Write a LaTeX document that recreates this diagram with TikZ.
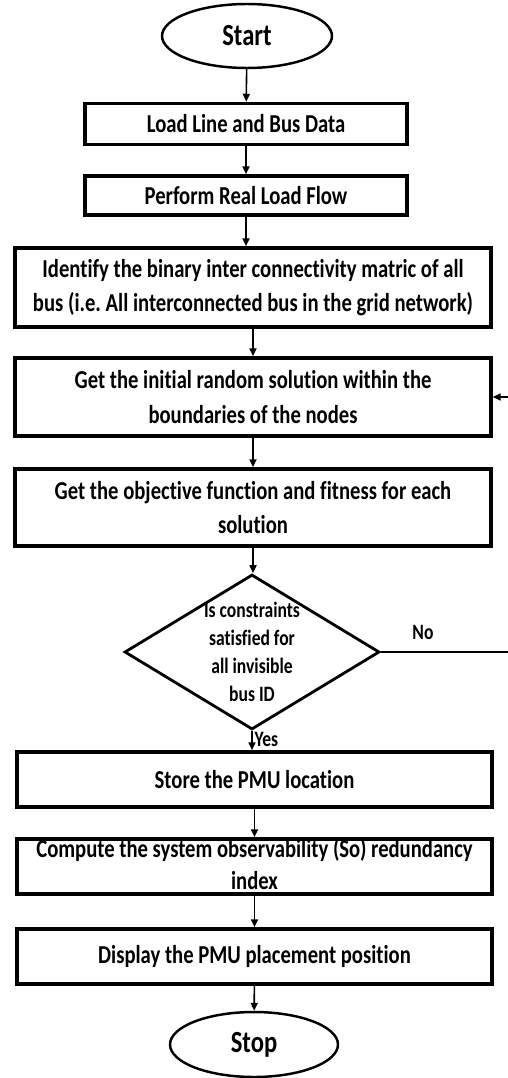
\documentclass[tikz,border=0pt]{standalone}
\usepackage{fontspec}
\setmainfont[FakeStretch=0.8, Ligatures=NoCommon]{Carlito}
\usepackage{tikz}
\usetikzlibrary{shapes.geometric, arrows.meta, positioning, calc}
\definecolor{flowblack}{RGB}{0,0,0}
\definecolor{flowwhite}{RGB}{255,255,255}
\tikzset{
  terminal/.style={
    ellipse, minimum width=3.4cm, minimum height=1.28cm, inner sep=0pt,
    draw=flowblack, line width=1.4pt, fill=flowwhite,
    font=\fontsize{17.5pt}{20pt}\selectfont\bfseries
  },
  stepbox/.style={
    rectangle, minimum width=9.52cm, minimum height=1.1cm, inner sep=0pt,
    draw=flowblack, line width=2.1pt, fill=flowwhite, align=center,
    font=\fontsize{14.7pt}{19.4pt}\selectfont\bfseries
  },
  decision/.style={
    diamond, minimum width=5.1cm, minimum height=3.1cm, inner sep=0pt,
    draw=flowblack, line width=1.6pt, fill=flowwhite
  },
  boxtext/.style={align=center, inner sep=0pt,
    font=\fontsize{14.7pt}{18.4pt}\selectfont\bfseries},
  dectext/.style={align=center, inner sep=0pt,
    font=\fontsize{12.5pt}{15.9pt}\selectfont\bfseries},
  arrow/.style={-{Triangle[length=4.5pt, width=4pt]}, line width=0.9pt, color=flowblack},
  flowlabel/.style={inner sep=1pt, font=\fontsize{12.5pt}{14pt}\selectfont\bfseries}
}

\begin{document}
\begin{tikzpicture}[x=0.02cm, y=-0.02cm]
  \useasboundingbox (0,0) rectangle (507,1078);

  % Terminals
  \node[terminal] (start) at (247, 36) {Start};
  \node[terminal, minimum width=3.36cm, minimum height=1.3cm] (stop) at (254, 1044.5) {Stop};

  % Preparation steps
  \node[stepbox, minimum width=6.44cm, minimum height=0.82cm] (loaddata) at (246, 124)
    {Load Line and Bus Data};
  \node[stepbox, minimum width=6.44cm, minimum height=0.78cm] (loadflow) at (246, 195.5)
    {Perform Real Load Flow};
  \node[stepbox, minimum height=1.58cm] (connmat) at (253, 287.5)
    {Identify the binary inter connectivity matric of all\\
     bus (i.e.\ All interconnected bus in the grid network)};

  % Search loop
  \node[stepbox, minimum height=1.56cm] (initsol) at (253, 397)
    {Get the initial random solution within the\\ boundaries of the nodes};
  \node[stepbox, minimum height=1.54cm] (fitness) at (253, 507.5)
    {Get the objective function and fitness for each\\ solution};
  \node[decision, path picture={
      \node[dectext] at (path picture bounding box.center)
        {Is constraints\\ satisfied for\\ all invisible\\ bus ID};
    }] (check) at (252, 652) {};

  % Results
  \node[stepbox, minimum width=9.5cm] (store) at (254.5, 779.5) {Store the PMU location};
  \node[stepbox, minimum width=9.5cm, path picture={
      \node[boxtext, yshift=1.5pt] at (path picture bounding box.center)
        {Compute the system observability (So) redundancy\\ index};
    }] (observ) at (254.5, 866.5) {};
  \node[stepbox, minimum width=9.5cm] (display) at (254.5, 956.5)
    {Display the PMU placement position};

  % Flow arrows
  \draw[arrow] (start) -- (loaddata);
  \draw[arrow] (loaddata) -- (loadflow);
  \draw[arrow] (loadflow) -- (loadflow |- connmat.north);
  \draw[arrow] (connmat) -- (initsol);
  \draw[arrow] (initsol) -- (fitness);
  \draw[arrow] (fitness.south) -- (fitness.south |- check.north);
  \draw[arrow] (check.south) -- node[flowlabel, right, pos=0.45] {Yes} (check.south |- store.north);
  \draw[arrow] (store) -- (store |- observ.north);
  \draw[arrow] (observ) -- (display);
  \draw[arrow] (display) -- (stop);

  % No branch back to the initial solution
  \coordinate (backline) at (509, 652);
  \node[flowlabel] (nolbl) at (423, 632) {No};
  \draw[arrow] (check.east) -- (backline) -- (backline |- initsol.east) -- (initsol.east);
\end{tikzpicture}
\end{document}
